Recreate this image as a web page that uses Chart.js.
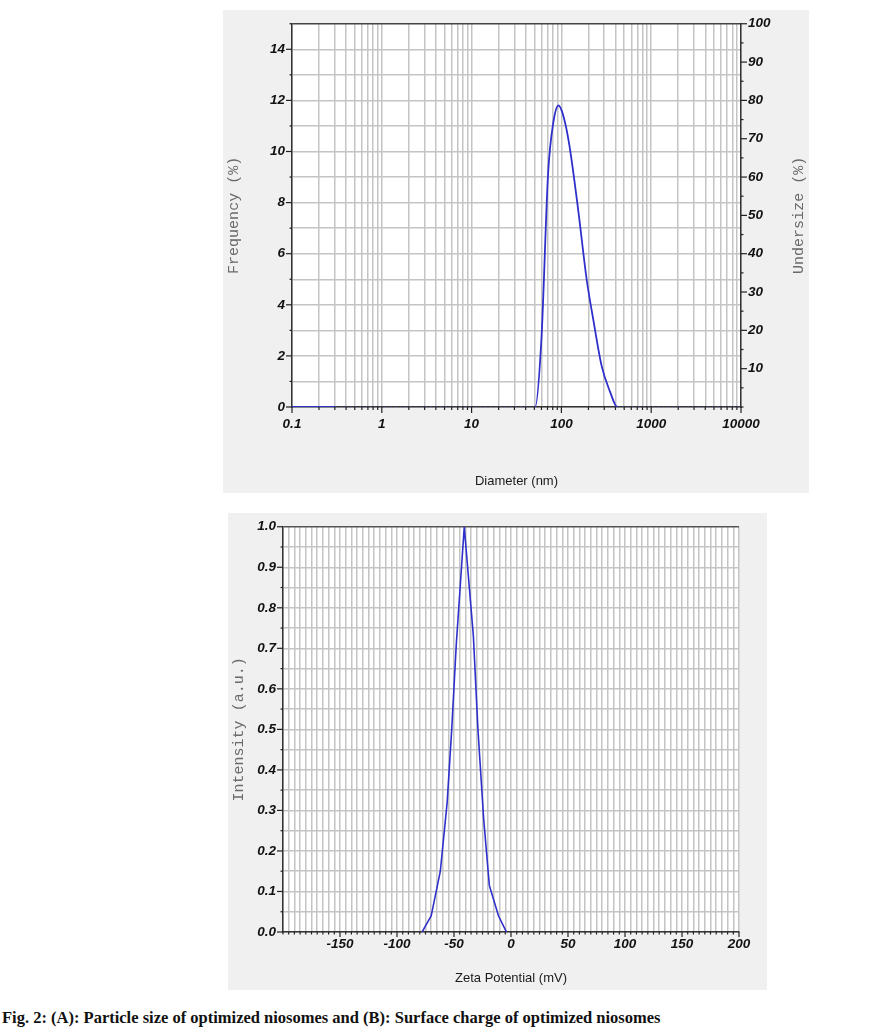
<!DOCTYPE html>
<html>
<head>
<meta charset="utf-8">
<script src="https://cdn.jsdelivr.net/npm/chart.js@4/dist/chart.umd.min.js"></script>
<style>
body { margin: 0; background: #fff; width: 875px; height: 1034px; position: relative; overflow: hidden; }
canvas { position: absolute; }
#sizeChart { left: 223px; top: 10px; }
#zetaChart { left: 228px; top: 513px; }
#caption { position: absolute; left: 2px; top: 1008px; line-height: 19px; font: bold 16.5px "Liberation Serif", serif; color: #111; white-space: nowrap; }
</style>
</head>
<body>
<canvas id="sizeChart" width="586" height="483"></canvas>
<canvas id="zetaChart" width="539" height="477"></canvas>
<div id="caption">Fig. 2: (A): Particle size of optimized niosomes and (B): Surface charge of optimized niosomes</div>
<script>
// (A) particle size distribution
const sizeDiam = [0.1, 0.3, 51, 60, 71, 81, 93, 105, 122, 154, 191, 227, 281, 348, 420, 10000];
const sizeFreq = [0, 0, 0, 2.7, 9.1, 11.1, 11.8, 11.4, 10.3, 7.7, 5.0, 3.4, 1.6, 0.6, 0, 0];
const sizeTickLabels = [0.1, 1, 10, 100, 1000, 10000];
const freqLabels = [0, 2, 4, 6, 8, 10, 12, 14];
const underLabels = [10, 20, 30, 40, 50, 60, 70, 80, 90, 100];

// (B) zeta potential distribution
const zetaMv = [-78, -70, -62, -56, -52, -48, -41, -33, -29, -24, -19, -11, -4];
const zetaInt = [0, 0.04, 0.15, 0.32, 0.5, 0.71, 1.0, 0.73, 0.5, 0.28, 0.115, 0.04, 0];
const zetaTickLabels = [-150, -100, -50, 0, 50, 100, 150, 200];
const intLabels = ['0.0', '0.1', '0.2', '0.3', '0.4', '0.5', '0.6', '0.7', '0.8', '0.9', '1.0'];

const blue = '#2f2fcc';
const tickFont = { family: 'Liberation Sans', size: 13.5, weight: 'bold', style: 'italic', lineHeight: 1 };
const monoFont = { family: 'Liberation Mono', size: 15 };
const gridGray = '#c4c4c4';

// log grid positions: 1..9 in every decade
let sizeGrid = [];
for (let i = 0; i < sizeTickLabels.length - 1; i++) {
    for (let m = 1; m <= 9; m++) {
        sizeGrid.push(parseFloat((m * sizeTickLabels[i]).toPrecision(3)));
    }
}
sizeGrid.push(sizeTickLabels[sizeTickLabels.length - 1]);

// grey panel with white plot area
const panelBg = {
    id: 'panelBg',
    beforeDraw(chart) {
        const { ctx, chartArea: a } = chart;
        ctx.save();
        ctx.fillStyle = '#f0f0f0';
        ctx.fillRect(0, 0, chart.width, chart.height);
        ctx.fillStyle = '#fff';
        ctx.fillRect(a.left, a.top, a.right - a.left, a.bottom - a.top);
        ctx.restore();
    }
};

// tick marks outside the axes, long ones where there is a label
function makeTickMarks(cfg) {
    return {
        id: 'tickMarks',
        afterDraw(chart) {
            const ctx = chart.ctx;
            ctx.save();
            ctx.strokeStyle = '#222';
            ctx.lineWidth = 1.2;
            cfg.forEach(c => {
                const s = chart.scales[c.id];
                s.ticks.forEach((t, i) => {
                    const p = s.getPixelForTick(i);
                    const len = t.label !== '' ? c.major : c.minor;
                    ctx.beginPath();
                    if (s.isHorizontal()) {
                        ctx.moveTo(p, s.top); ctx.lineTo(p, s.top + len);
                    } else if (s.position === 'left') {
                        ctx.moveTo(s.right, p); ctx.lineTo(s.right - len, p);
                    } else {
                        ctx.moveTo(s.left, p); ctx.lineTo(s.left + len, p);
                    }
                    ctx.stroke();
                });
            });
            ctx.restore();
        }
    };
}

// right hand title, reads bottom to top like the left one
const sideTitle = {
    id: 'sideTitle',
    afterDraw(chart, args, o) {
        if (!o.text) return;
        const { ctx, chartArea: a } = chart;
        ctx.save();
        ctx.font = '15px "Liberation Mono"';
        ctx.fillStyle = '#6a6a6a';
        ctx.textAlign = 'center';
        ctx.textBaseline = 'middle';
        ctx.translate(o.x, (a.top + a.bottom) / 2);
        ctx.rotate(-Math.PI / 2);
        ctx.fillText(o.text, 0, 0);
        ctx.restore();
    }
};

const sizePoints = sizeDiam.map((d, i) => ({ x: d, y: sizeFreq[i] }));
const flatSeg = c => c.p0.parsed.y === 0 && c.p1.parsed.y === 0 && c.p0.parsed.x > 0.2;

new Chart(document.getElementById('sizeChart'), {
    type: 'line',
    data: {
        datasets: [{
            data: sizePoints,
            borderColor: blue,
            borderWidth: 1.8,
            pointRadius: 0,
            cubicInterpolationMode: 'monotone',
            segment: {
                borderDash: c => flatSeg(c) ? [2, 3] : undefined,
                borderColor: c => flatSeg(c) ? 'rgba(70,70,220,0.7)' : undefined,
                borderWidth: c => flatSeg(c) ? 1.2 : undefined
            }
        }]
    },
    options: {
        responsive: false,
        animation: false,
        layout: { padding: { top: 6 } },
        plugins: { legend: { display: false }, tooltip: { enabled: false }, sideTitle: { text: 'Undersize (%)', x: 576 } },
        scales: {
            x: {
                type: 'logarithmic', position: 'bottom', min: 0.1, max: 10000,
                afterBuildTicks: s => { s.ticks = sizeGrid.map(v => ({ value: v })); },
                afterFit: s => { s.height = 86; },
                ticks: { autoSkip: false, maxRotation: 0, padding: 11, font: tickFont, color: '#111',
                    callback: v => sizeTickLabels.includes(v) ? String(v) : '' },
                grid: { color: gridGray, lineWidth: 1.5, drawTicks: false },
                border: { color: '#333', width: 1.5 },
                title: { display: true, text: 'Diameter (nm)', color: '#1a1a1a',
                    font: { family: 'Liberation Sans', size: 13 }, padding: { top: 0, bottom: 4 } }
            },
            y: {
                position: 'left', min: 0, max: 15,
                afterFit: s => { s.width = 69; },
                ticks: { stepSize: 1, autoSkip: false, padding: 7, font: tickFont, color: '#111',
                    callback: v => freqLabels.includes(v) ? String(v) : '' },
                grid: { color: c => c.tick && c.tick.value === 15 ? '#444' : gridGray, lineWidth: 1.5, drawTicks: false },
                border: { color: '#333', width: 1.5 },
                title: { display: true, text: 'Frequency (%)', color: '#6a6a6a', font: monoFont, padding: { top: 2, bottom: 0 } }
            },
            y2: {
                position: 'right', min: 0, max: 100,
                afterFit: s => { s.width = 68; },
                ticks: { stepSize: 5, autoSkip: false, padding: 7, font: tickFont, color: '#111',
                    callback: v => underLabels.includes(v) ? String(v) : '' },
                grid: { drawOnChartArea: false, drawTicks: false },
                border: { color: '#333', width: 1.5 }
            }
        }
    },
    plugins: [panelBg, makeTickMarks([{ id: 'x', major: 6, minor: 3 }, { id: 'y', major: 6, minor: 2.5 }, { id: 'y2', major: 6, minor: 2.5 }]), sideTitle]
});

const zetaPoints = zetaMv.map((v, i) => ({ x: v, y: zetaInt[i] }));

new Chart(document.getElementById('zetaChart'), {
    type: 'line',
    data: {
        datasets: [{
            data: zetaPoints,
            borderColor: blue,
            borderWidth: 1.6,
            pointRadius: 0,
            tension: 0
        }]
    },
    options: {
        responsive: false,
        animation: false,
        layout: { padding: { top: 12, right: 28 } },
        plugins: { legend: { display: false }, tooltip: { enabled: false } },
        scales: {
            x: {
                type: 'linear', position: 'bottom', min: -200, max: 200,
                afterFit: s => { s.height = 58; },
                ticks: { stepSize: 5, autoSkip: false, maxRotation: 0, padding: 6, font: tickFont, color: '#111',
                    callback: v => zetaTickLabels.includes(v) ? String(v) : '' },
                grid: { color: gridGray, lineWidth: 1.5, drawTicks: false },
                border: { color: '#333', width: 1.5 },
                title: { display: true, text: 'Zeta Potential (mV)', color: '#1a1a1a',
                    font: { family: 'Liberation Sans', size: 13 }, padding: { top: 0, bottom: 4 } }
            },
            y: {
                position: 'left', min: 0, max: 1,
                afterFit: s => { s.width = 55; },
                ticks: { stepSize: 0.05, autoSkip: false, padding: 7, font: tickFont, color: '#111',
                    callback: v => { const r = Math.round(v * 100); return r % 10 === 0 ? intLabels[r / 10] : ''; } },
                grid: { color: c => c.tick && Math.round(c.tick.value * 100) === 100 ? '#555' : gridGray, lineWidth: 1.5, drawTicks: false },
                border: { color: '#333', width: 1.5 },
                title: { display: true, text: 'Intensity (a.u.)', color: '#6a6a6a', font: monoFont, padding: { top: 2, bottom: 0 } }
            }
        }
    },
    plugins: [panelBg, makeTickMarks([{ id: 'x', major: 5, minor: 2.5 }, { id: 'y', major: 6, minor: 2.5 }])]
});
</script>
</body>
</html>
